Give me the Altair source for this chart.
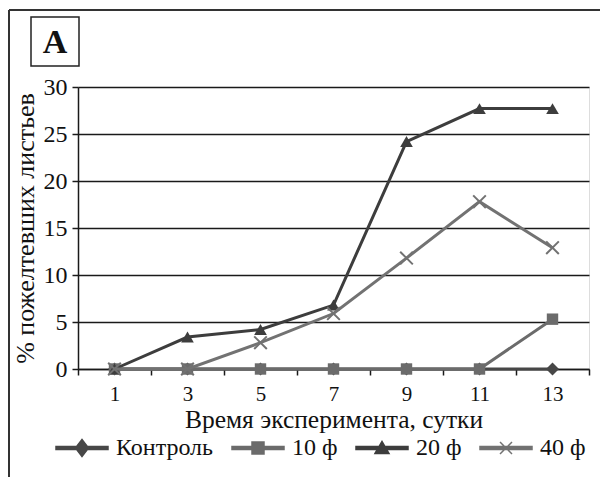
import altair as alt
import pandas as pd

# ---- data ----
days = [1, 3, 5, 7, 9, 11, 13]
series = ["Контроль", "10 ф", "20 ф", "40 ф"]
control = [0, 0, 0, 0, 0, 0, 0]
f10 = [0, 0, 0, 0, 0, 0, 5.3]
f20 = [0, 3.4, 4.2, 6.8, 24.2, 27.7, 27.7]
f40 = [0, 0, 2.8, 5.9, 11.8, 17.8, 12.9]
y_ticks = [0, 5, 10, 15, 20, 25, 30]
x_title = "Время эксперимента, сутки"
y_title = "% пожелтевших листьев"
panel_label = ["A"]

colors = ["#474747", "#6b6b6b", "#3d3d3d", "#727272"]
shapes = ["diamond", "square", "triangle-up", "M-1,-1L1,1M-1,1L1,-1"]
sizes = [170, 130, 160, 160]
filled = [True, True, True, False]
legend_paths = [
    "M-1.1,-0.15H4.1V0.15H-1.1Z M0.85,0L1.5,-0.85L2.15,0L1.5,0.85Z",
    "M-1.1,-0.15H4.1V0.15H-1.1Z M0.9,-0.6H2.1V0.6H0.9Z",
    "M-1.1,-0.15H4.1V0.15H-1.1Z M0.8,0.55L1.5,-0.65L2.2,0.55Z",
    "M-1.1,-0.15H4.1V0.15H-1.1Z M0.9,-0.6L2.1,0.6M0.9,0.6L2.1,-0.6",
]

rows = []
for name, vals in zip(series, [control, f10, f20, f40]):
    for d, v in zip(days, vals):
        rows.append({"day": d, "value": v, "series": name})
df = pd.DataFrame(rows)

FONT = "'Liberation Serif', 'Times New Roman', 'DejaVu Serif', serif"
W, H = 511, 282

x_enc = alt.X(
    "day:Q",
    scale=alt.Scale(domain=[0, 14], nice=False, zero=False),
    axis=alt.Axis(
        values=list(range(0, 15)),
        labelExpr="datum.value % 2 == 1 ? datum.label : ''",
        tickOpacity={"condition": {"test": "datum.value % 2 == 0", "value": 1}, "value": 0},
        tickSize=6, tickWidth=1.5, tickColor="#1a1a1a",
        domainColor="#1a1a1a", domainWidth=1.5,
        labelFont=FONT, labelFontSize=21, labelColor="#111", labelPadding=8,
        labelOverlap=False, labelFlush=False, grid=False,
        title=x_title, titleFont=FONT, titleFontSize=25.5, titleFontWeight="normal",
        titleColor="#111", titleBaseline="alphabetic", titleX=W / 2, titleY=58,
        titleAlign="center",
    ),
)
y_enc = alt.Y(
    "value:Q",
    scale=alt.Scale(domain=[0, 30], nice=False),
    axis=alt.Axis(
        values=y_ticks, grid=True, gridColor="#1a1a1a", gridWidth=1.5,
        tickSize=6, tickWidth=1.5, tickColor="#1a1a1a",
        domainColor="#1a1a1a", domainWidth=1.5,
        labelFont=FONT, labelFontSize=24, labelColor="#111", labelPadding=5,
        title=y_title, titleFont=FONT, titleFontSize=26, titleFontWeight="normal",
        titleColor="#111", titleAngle=270, titleBaseline="alphabetic",
        titleX=-45, titleY=H / 2, titleAlign="center",
    ),
)

layers = []
for i, name in enumerate(series):
    base = alt.Chart(df).transform_filter(alt.datum.series == name)
    layers.append(base.mark_line(color=colors[i], strokeWidth=3).encode(x=x_enc, y=y_enc))
    layers.append(
        base.mark_point(
            shape=shapes[i], filled=filled[i], size=sizes[i], color=colors[i],
            strokeWidth=2, opacity=1,
        ).encode(x=x_enc, y=y_enc)
    )

legend_layer = (
    alt.Chart(df)
    .transform_filter("false")
    .mark_point(filled=True, opacity=1, strokeWidth=1.5)
    .encode(
        x=x_enc,
        y=y_enc,
        fill=alt.Fill("series:N", scale=alt.Scale(domain=series, range=colors), title=None),
        stroke=alt.Stroke("series:N", scale=alt.Scale(domain=series, range=colors), title=None),
        shape=alt.Shape("series:N", scale=alt.Scale(domain=series, range=legend_paths), title=None),
    )
)
layers.append(legend_layer)

one = pd.DataFrame({"label": panel_label})
frame_left = alt.Chart(one).mark_rule(color="#333", strokeWidth=2).encode(
    x=alt.value(-69), y=alt.value(-77), y2=alt.value(400))
frame_top = alt.Chart(one).mark_rule(color="#333", strokeWidth=2).encode(
    x=alt.value(-69), x2=alt.value(530), y=alt.value(-77))
box = alt.Chart(one).mark_rect(fill="white", stroke="#222", strokeWidth=1.5).encode(
    x=alt.value(-47), x2=alt.value(1), y=alt.value(-70), y2=alt.value(-21))
box_text = alt.Chart(one).mark_text(
    font=FONT, fontSize=34, fontWeight="bold", color="#111", baseline="middle", align="center"
).encode(x=alt.value(-23), y=alt.value(-44), text="label:N")

chart = (
    alt.layer(frame_left, frame_top, box, box_text, *layers)
    .properties(
        width=W, height=H,
        autosize=alt.AutoSizeParams(type="none"),
        padding={"left": 70, "top": 79, "right": 11, "bottom": 108},
    )
    .configure_view(stroke=None)
    .configure(font=FONT)
    .configure_legend(
        orient="none", legendX=-23, legendY=349, direction="horizontal",
        symbolSize=400, symbolStrokeWidth=1.5, labelOffset=37, columnPadding=15,
        labelFont=FONT, labelFontSize=24, labelColor="#111", padding=0, labelLimit=300,
    )
)

chart.save("out.html", embed_options={"renderer": "svg", "actions": False})
